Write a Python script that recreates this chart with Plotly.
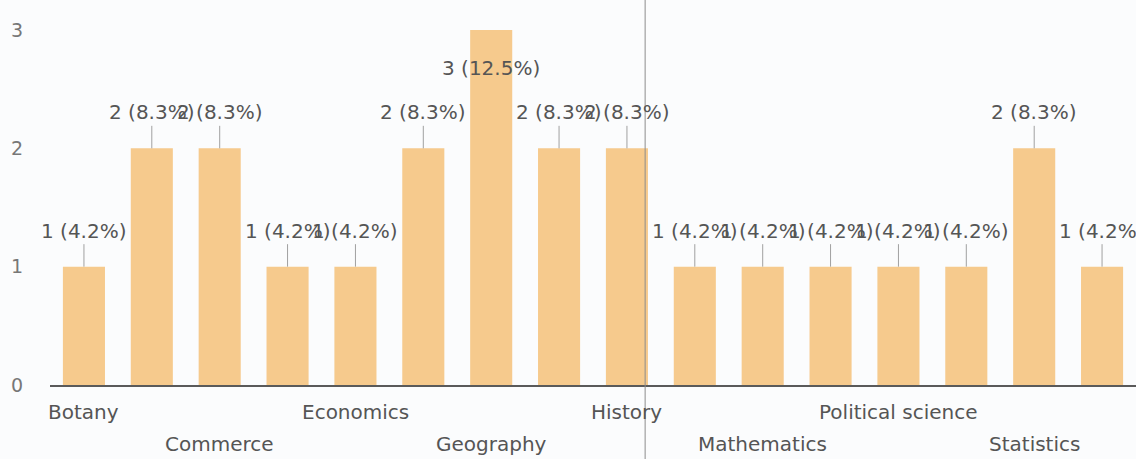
import plotly.graph_objects as go

# Subjects on the category axis, in order
subjects = [
    "Botany", "Chemistry", "Commerce", "Computer science", "Economics",
    "English", "Geography", "Hindi", "History", "Home science",
    "Mathematics", "Physics", "Political science", "Psychology",
    "Statistics", "Zoology",
]
# Number of respondents per subject
counts = [1, 2, 2, 1, 1, 2, 3, 2, 2, 1, 1, 1, 1, 1, 2, 1]
y_ticks = [0, 1, 2, 3]

BAR_COLOR = "#F6CA8D"
TEXT_COLOR = "#555555"
FONT = "DejaVu Sans"
FONT_SIZE = 20

total = sum(counts)
top = max(counts)

fig = go.Figure(
    go.Bar(
        x=subjects,
        y=counts,
        marker=dict(color=BAR_COLOR, line=dict(width=0)),
        hoverinfo="x+y",
    )
)

annotations = []
for name, v in zip(subjects, counts):
    label = f"{v} ({v / total * 100:.1f}%)"
    if v == top:
        # tallest bar: label sits inside the bar, no leader line
        annotations.append(dict(
            x=name, y=v, xref="x", yref="y", text=label, showarrow=False,
            yanchor="middle", yshift=-38,
            font=dict(family=FONT, size=FONT_SIZE, color=TEXT_COLOR),
        ))
    else:
        annotations.append(dict(
            x=name, y=v, xref="x", yref="y", text=label, showarrow=True,
            arrowhead=0, arrowwidth=1, arrowcolor="#a0a0a0", ax=0, ay=-36,
            standoff=0, startstandoff=0,
            font=dict(family=FONT, size=FONT_SIZE, color=TEXT_COLOR),
        ))

# Every other subject is labelled, alternating between two rows
for i, name in enumerate(subjects):
    if i % 2:
        continue
    row = (i // 2) % 2
    annotations.append(dict(
        x=name, y=0, xref="x", yref="y", text=name, showarrow=False,
        yanchor="middle", yshift=-27 if row == 0 else -59,
        font=dict(family=FONT, size=FONT_SIZE, color=TEXT_COLOR),
    ))

fig.update_layout(
    width=1136,
    height=459,
    margin=dict(l=50, r=0, t=30, b=74),
    paper_bgcolor="#fbfcfd",
    plot_bgcolor="#fbfcfd",
    bargap=0.38,
    showlegend=False,
    annotations=annotations,
    shapes=[dict(
        type="line", xref="paper", yref="paper",
        x0=0.548, x1=0.548, y0=-74 / 355, y1=1 + 30 / 355,
        line=dict(color="#8c8c8c", width=1), layer="above",
    )],
    xaxis=dict(
        showticklabels=False, showgrid=False, zeroline=False,
        showline=True, linecolor="#5a5a5a", linewidth=2, ticks="",
        range=[-0.5, len(subjects) - 0.5],
    ),
    yaxis=dict(
        range=[0, 3], tickvals=y_ticks, showgrid=False, zeroline=False,
        showline=False, ticks="", ticklabelstandoff=26,
        tickfont=dict(family=FONT, size=19, color="#777777"),
    ),
)

fig.write_html("out.html")
